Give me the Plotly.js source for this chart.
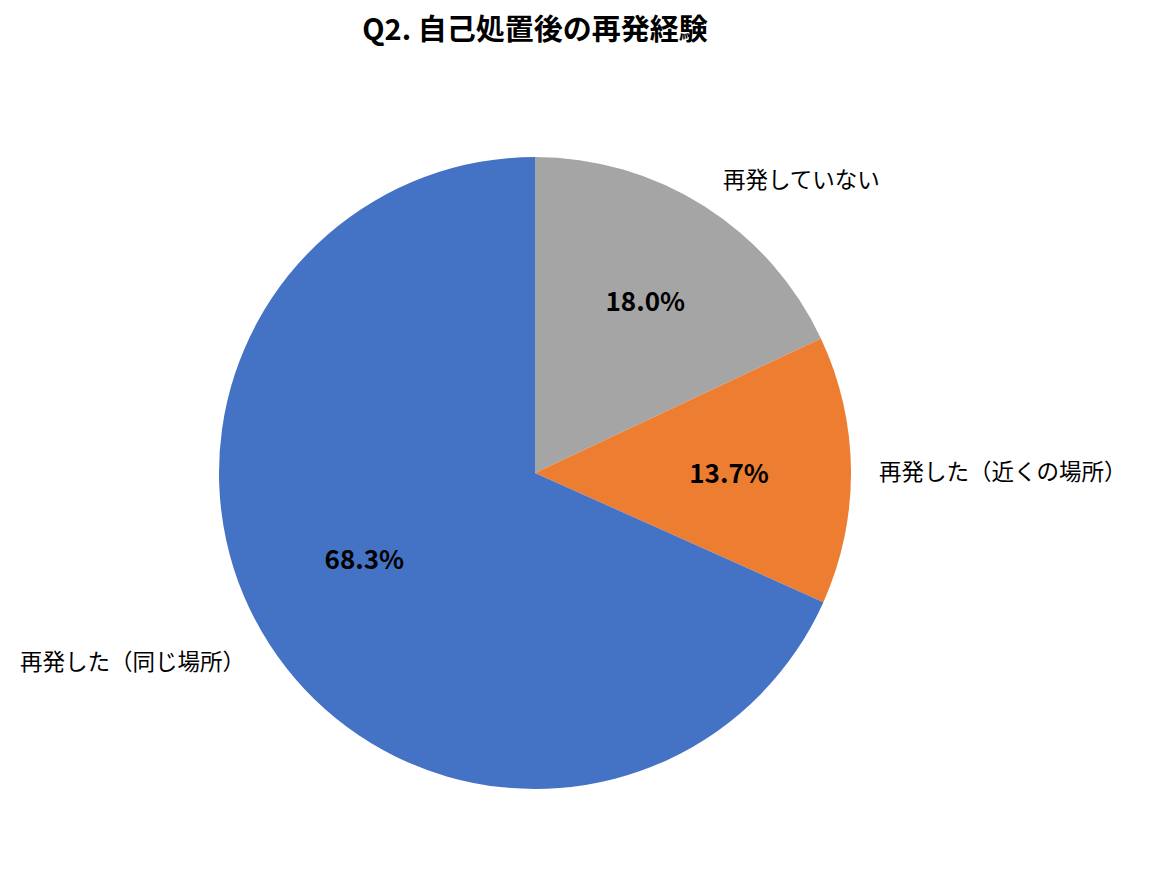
<!DOCTYPE html>
<html>
<head>
<meta charset="utf-8">
<script src="https://cdn.plot.ly/plotly-3.0.1.min.js"></script>
<style>
  html, body { margin: 0; padding: 0; background: #fff; }
  #chart { width: 1149px; height: 883px; }
</style>
</head>
<body>
<div id="chart"></div>
<script>
const categories = ['再発していない', '再発した（近くの場所）', '再発した（同じ場所）'];
const shares = [18.0, 13.7, 68.3];
const colors = ['#A5A5A5', '#ED7D31', '#4472C4'];

const font = '"Noto Sans CJK JP", "Noto Sans", sans-serif';
const clear = ['rgba(0,0,0,0)', 'rgba(0,0,0,0)', 'rgba(0,0,0,0)'];
const pctText = shares.map(v => v.toFixed(1) + '%');
const pctFont = {family: font, size: 26, color: '#000', weight: 'bold'};

// pie centre and radius in pixels
const cx = 535, cy = 473, W = 1149, H = 883;
function around(r) {
  return {x: [(cx - r) / W, (cx + r) / W], y: [(H - cy - r) / H, (H - cy + r) / H]};
}

const base = {
  type: 'pie',
  labels: categories,
  values: shares,
  sort: false,
  direction: 'clockwise',
  rotation: 0,
  showlegend: false,
};

// the coloured slices (grey slice keeps its percentage inside)
const slices = Object.assign({}, base, {
  domain: around(316),
  marker: {colors: colors, line: {width: 0}},
  textinfo: 'text',
  text: pctText,
  textposition: ['inside', 'none', 'none'],
  insidetextorientation: 'horizontal',
  insidetextfont: pctFont,
  hoverinfo: 'label+percent',
});

// invisible smaller pie: its outside text sits where the other percentages go
const percents = Object.assign({}, base, {
  domain: around(145),
  marker: {colors: clear, line: {width: 0}},
  textinfo: 'text',
  text: pctText,
  textposition: ['none', 'outside', 'outside'],
  outsidetextfont: pctFont,
  hoverinfo: 'skip',
});

// invisible larger pie carrying the category names
const names = Object.assign({}, base, {
  domain: around(336),
  marker: {colors: clear, line: {width: 0}},
  textinfo: 'label',
  textposition: 'outside',
  outsidetextfont: {family: font, size: 22.5, color: '#000'},
  hoverinfo: 'skip',
});

const layout = {
  width: W,
  height: H,
  margin: {l: 0, r: 0, t: 0, b: 0},
  paper_bgcolor: '#fff',
  title: {
    text: '<b>Q2. 自己処置後の再発経験</b>',
    font: {family: font, size: 29, color: '#000'},
    x: 535 / W,
    xanchor: 'center',
    y: 1 - 30 / H,
    yanchor: 'middle',
  },
};

Plotly.newPlot('chart', [slices, percents, names], layout, {displayModeBar: false});
</script>
</body>
</html>
